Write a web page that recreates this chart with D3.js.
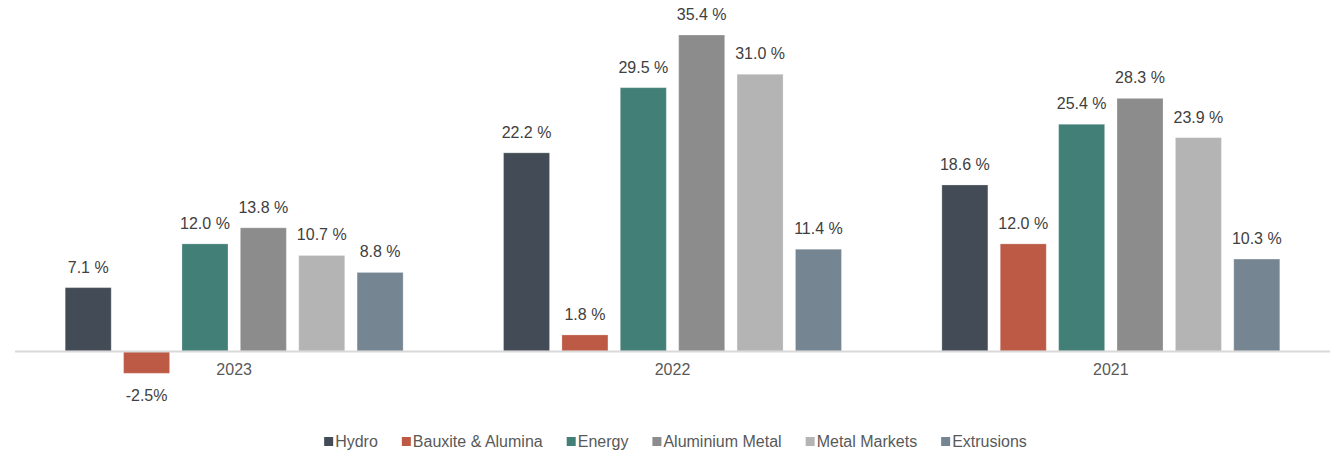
<!DOCTYPE html>
<html><head><meta charset="utf-8">
<script src="https://cdn.jsdelivr.net/npm/d3@7"></script>
<style>body{margin:0;background:#fff;} text{font-family:"Liberation Sans",Arial,sans-serif;}</style>
</head><body><svg id="c" width="1337" height="451"></svg>
<script>
const categories = ["2023", "2022", "2021"];
const series = ["Hydro", "Bauxite & Alumina", "Energy", "Aluminium Metal", "Metal Markets", "Extrusions"];
const hydro = [7.1, 22.2, 18.6];
const bauxite = [-2.5, 1.8, 12.0];
const energy = [12.0, 29.5, 25.4];
const aluminium = [13.8, 35.4, 28.3];
const metalMarkets = [10.7, 31.0, 23.9];
const extrusions = [8.8, 11.4, 10.3];
const colors = ["#434c56", "#bc5a45", "#417f77", "#8c8c8c", "#b4b4b4", "#758592"];

const values = [hydro, bauxite, energy, aluminium, metalMarkets, extrusions];
const svg = d3.select("#c");
const x0 = d3.scaleBand().domain(categories).range([15, 1330]).padding(0);
const x1 = d3.scaleBand().domain(series).range([0, x0.bandwidth()]).paddingInner(0.212).paddingOuter(0.86);
const y = d3.scaleLinear().domain([0, 35.4]).range([351, 35]);

const data = [];
categories.forEach((c, i) => series.forEach((s, j) => data.push({c, s, v: values[j][i], col: colors[j]})));

svg.selectAll("rect.bar").data(data).enter().append("rect").attr("class", "bar")
  .attr("x", d => x0(d.c) + x1(d.s))
  .attr("width", x1.bandwidth())
  .attr("y", d => d.v >= 0 ? y(d.v) : y(0))
  .attr("height", d => Math.abs(y(d.v) - y(0)))
  .attr("fill", d => d.col)
  .attr("stroke", "rgba(255,255,255,0.25)").attr("stroke-width", 1);

svg.append("line").attr("x1", 15).attr("x2", 1330).attr("y1", y(0)+0.5).attr("y2", y(0)+0.5)
  .attr("stroke", "#d9d9d9").attr("stroke-width", 2);

svg.selectAll("text.lbl").data(data).enter().append("text").attr("class", "lbl")
  .attr("x", d => x0(d.c) + x1(d.s) + x1.bandwidth()/2)
  .attr("y", d => d.v >= 0 ? y(d.v) - 15 : y(d.v) + 28)
  .attr("text-anchor", "middle").attr("font-size", 16).attr("fill", "#404040")
  .text(d => d.v >= 0 ? d.v.toFixed(1) + " %" : d.v.toFixed(1) + "%");

svg.selectAll("text.cat").data(categories).enter().append("text").attr("class", "cat")
  .attr("x", d => x0(d) + x0.bandwidth()/2).attr("y", 375)
  .attr("text-anchor", "middle").attr("font-size", 16).attr("fill", "#595959").text(d => d);

const lg = svg.append("g");
let xx = 0;
const gap = 24;
series.forEach((s, j) => {
  const g = lg.append("g").attr("transform", `translate(${xx},0)`);
  g.append("rect").attr("x", 0).attr("y", -10).attr("width", 9).attr("height", 9).attr("fill", colors[j]);
  const t = g.append("text").attr("x", 11).attr("y", 0).attr("font-size", 16).attr("fill", "#595959").text(s);
  xx += 11 + t.node().getComputedTextLength() + gap;
});
const total = xx - gap;
lg.attr("transform", `translate(${(1337 - total)/2 + 7},447)`);
</script></body></html>
